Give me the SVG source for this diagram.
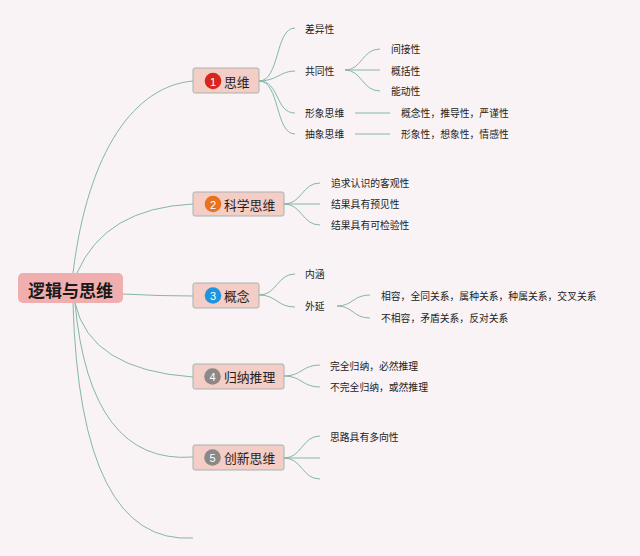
<svg xmlns="http://www.w3.org/2000/svg" width="640" height="556" viewBox="0 0 640 556">
<style>
.conn path{fill:none;stroke:#84b6aa;stroke-width:1}
.sub{font-family:"Noto Sans CJK SC","Liberation Sans",sans-serif;font-size:9.8px;fill:#222;dominant-baseline:central}
.topic rect{fill:#f3cdc6;stroke:#a3b5ad;stroke-width:1}
.ttext{font-family:"Noto Sans CJK SC","Liberation Sans",sans-serif;font-size:12.8px;fill:#1e1e1e;dominant-baseline:central}
.num{font-family:"Liberation Sans",sans-serif;font-size:11px;fill:#fff;text-anchor:middle;dominant-baseline:central}
</style>
<rect width="640" height="556" fill="#f9f3f6"/>
<g class="conn">
<path d="M73,273 C88,150 135,86 193,81"/>
<path d="M77,273 Q105,208 193,204"/>
<path d="M123,294 Q160,296 193,296"/>
<path d="M75,303 Q90,370 193,377"/>
<path d="M75,303 Q90,465 193,457"/>
<path d="M73,303 Q80,545 193,538"/>
<path d="M259,81 C280,81 275,28 295,28"/>
<path d="M259,81 C277,81 280,71 295,71"/>
<path d="M259,81 C280,81 275,113 295,113"/>
<path d="M259,81 C280,81 275,134 295,134"/>
<path d="M345,70 C362,70 362,49 380,49"/>
<path d="M345,70 L380,70"/>
<path d="M345,70 C362,70 362,91 380,91"/>
<path d="M355,113 L390,113"/>
<path d="M355,134 L390,134"/>
<path d="M284,204 C302,204 302,183 320,183"/>
<path d="M284,204 L320,204"/>
<path d="M284,204 C302,204 302,225 320,225"/>
<path d="M259,295 C277,295 277,274 295,274"/>
<path d="M259,295 C277,295 277,307 295,307"/>
<path d="M337,306 C353,306 353,295 370,295"/>
<path d="M337,306 C353,306 353,318 370,318"/>
<path d="M284,376 C302,376 302,365 320,365"/>
<path d="M284,376 C302,376 302,387 320,387"/>
<path d="M284,458 C302,458 302,436 320,436"/>
<path d="M284,458 L320,458"/>
<path d="M284,458 C302,458 302,479 320,479"/>
</g>
<g id="central">
<rect x="18" y="273" width="105" height="30" rx="5" fill="#f1aeae"/>
<text x="70.5" y="289" font-family="'Noto Sans CJK SC','Liberation Sans',sans-serif" font-size="17" font-weight="bold" fill="#1a1a1a" text-anchor="middle" dominant-baseline="central">逻辑与思维</text>
</g>
<g id="t1" class="topic">
<rect x="193" y="68" width="66" height="25" rx="2"/>
<circle cx="213" cy="81" r="8.3" fill="#d8261b"/>
<text class="num" x="213" y="81.5">1</text>
<text class="ttext" x="224" y="81">思维</text>
</g>
<g id="t2" class="topic">
<rect x="193" y="192" width="91" height="24" rx="2"/>
<circle cx="213" cy="204" r="8.3" fill="#e8731c"/>
<text class="num" x="213" y="204.5">2</text>
<text class="ttext" x="224" y="204">科学思维</text>
</g>
<g id="t3" class="topic">
<rect x="193" y="283" width="66" height="25" rx="2"/>
<circle cx="213" cy="295.5" r="8.3" fill="#1e95de"/>
<text class="num" x="213" y="296">3</text>
<text class="ttext" x="224" y="295.5">概念</text>
</g>
<g id="t4" class="topic">
<rect x="193" y="364" width="91" height="25" rx="2"/>
<circle cx="212.5" cy="376.5" r="8.3" fill="#8b8888"/>
<text class="num" x="212.5" y="377">4</text>
<text class="ttext" x="224" y="376.5">归纳推理</text>
</g>
<g id="t5" class="topic">
<rect x="193" y="445" width="91" height="25" rx="2"/>
<circle cx="212.5" cy="457.5" r="8.3" fill="#8b8888"/>
<text class="num" x="212.5" y="458">5</text>
<text class="ttext" x="224" y="457.5">创新思维</text>
</g>
<g id="s1">
<text class="sub" x="305" y="29">差异性</text>
<text class="sub" x="305" y="71">共同性</text>
<text class="sub" x="391" y="49">间接性</text>
<text class="sub" x="391" y="71">概括性</text>
<text class="sub" x="391" y="91">能动性</text>
<text class="sub" x="305" y="113">形象思维</text>
<text class="sub" x="305" y="134">抽象思维</text>
<text class="sub" x="401" y="113">概念性，推导性，严谨性</text>
<text class="sub" x="401" y="134">形象性，想象性，情感性</text>
</g>
<g id="s2">
<text class="sub" x="331" y="183">追求认识的客观性</text>
<text class="sub" x="331" y="204">结果具有预见性</text>
<text class="sub" x="331" y="225">结果具有可检验性</text>
</g>
<g id="s3">
<text class="sub" x="305" y="274">内涵</text>
<text class="sub" x="305" y="306">外延</text>
<text class="sub" x="381" y="296">相容，全同关系，属种关系，种属关系，交叉关系</text>
<text class="sub" x="381" y="318">不相容，矛盾关系，反对关系</text>
</g>
<g id="s4">
<text class="sub" x="330" y="366">完全归纳，必然推理</text>
<text class="sub" x="330" y="387">不完全归纳，或然推理</text>
</g>
<g id="s5">
<text class="sub" x="330" y="437">思路具有多向性</text>
</g>
</svg>
